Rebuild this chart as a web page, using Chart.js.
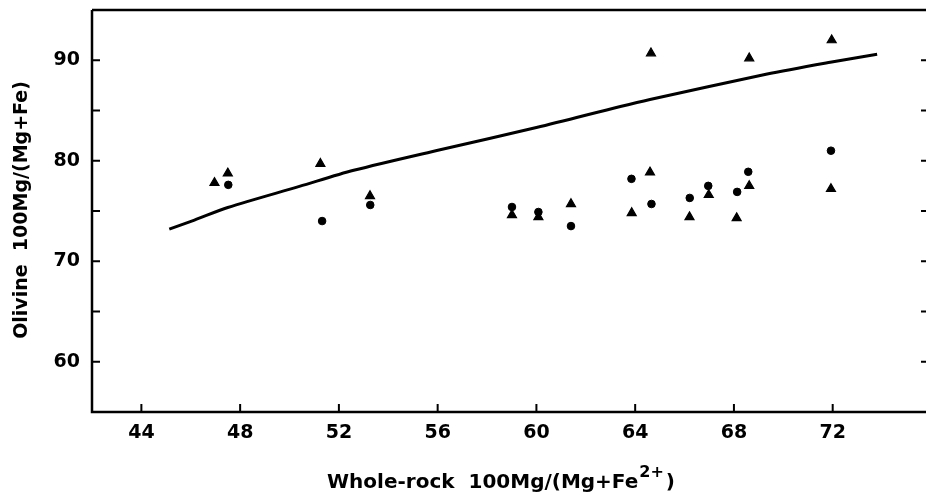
<!DOCTYPE html>
<html>
<head>
<meta charset="utf-8">
<script src="https://cdn.jsdelivr.net/npm/chart.js@4/dist/chart.umd.min.js"></script>
<style>
  html, body { margin: 0; padding: 0; background: #fff; overflow: hidden; }
  canvas { display: block; }
</style>
</head>
<body>
<canvas id="chart" width="926" height="493" style="width:926px;height:493px"></canvas>
<script>
// olivine vs whole-rock Mg number
const circleX = [47.52, 51.32, 53.27, 59.01, 60.08, 61.40, 63.85, 64.66, 66.21, 66.96, 68.13, 68.58, 71.93];
const circleY = [77.6, 74.0, 75.6, 75.4, 74.9, 73.5, 78.2, 75.7, 76.3, 77.5, 76.9, 78.9, 81.0];

const triX = [46.96, 47.50, 51.25, 53.26, 59.01, 60.08, 61.40, 63.86, 64.60, 64.64, 66.20, 66.98, 68.11, 68.62, 68.62, 71.96, 71.93];
const triY = [77.8, 78.75, 79.7, 76.5, 74.6, 74.4, 75.7, 74.8, 78.85, 90.7, 74.4, 76.6, 74.3, 77.5, 90.2, 92.0, 77.2];

const curveX = [45.13, 46.15, 47.5, 50.4, 52.6, 56.1, 60.0, 63.4, 64.6, 69.3, 71.9, 73.8];
const curveY = [73.2, 74.1, 75.35, 77.45, 79.05, 81.1, 83.3, 85.4, 86.1, 88.6, 89.8, 90.6];

const xTicks = [44, 48, 52, 56, 60, 64, 68, 72];
const yLabels = [60, 70, 80, 90];
const yTicks = [60, 65, 70, 75, 80, 85, 90];

const FONT = '"DejaVu Sans", sans-serif';

const zip = (xs, ys) => xs.map((x, i) => ({ x: x, y: ys[i] }));

// frame, inward ticks and the axis titles
const framePlugin = {
    id: 'frame',
    afterDraw(chart) {
        const ctx = chart.ctx;
        const a = chart.chartArea;
        const xs = chart.scales.x, ys = chart.scales.y;
        // the right-hand axis of the figure sits at the picture edge
        const right = chart.width + 3;
        ctx.save();
        ctx.strokeStyle = '#000';
        ctx.lineWidth = 2.5;
        ctx.beginPath();
        ctx.moveTo(a.left, a.top);
        ctx.lineTo(right, a.top);
        ctx.moveTo(a.left, a.top);
        ctx.lineTo(a.left, a.bottom);
        ctx.lineTo(right, a.bottom);
        ctx.stroke();

        ctx.lineWidth = 2;
        ctx.beginPath();
        for (const v of xTicks) {
            const px = xs.getPixelForValue(v);
            ctx.moveTo(px, a.bottom);
            ctx.lineTo(px, a.bottom - 8);
        }
        for (const v of yTicks) {
            const py = ys.getPixelForValue(v);
            ctx.moveTo(a.left, py);
            ctx.lineTo(a.left + 8, py);
            ctx.moveTo(right, py);
            ctx.lineTo(right - 8, py);
        }
        ctx.stroke();

        // x title with superscript
        ctx.fillStyle = '#000';
        ctx.textBaseline = 'alphabetic';
        ctx.textAlign = 'left';
        const main = 'Whole-rock  100Mg/(Mg+Fe';
        const sup = '2+';
        const close = ')';
        ctx.font = 'bold 20px ' + FONT;
        const w1 = ctx.measureText(main).width;
        const w3 = ctx.measureText(close).width;
        ctx.font = 'bold 16px ' + FONT;
        const w2 = ctx.measureText(sup).width;
        let x0 = 501 - (w1 + w2 + w3 + 3) / 2;
        const base = 488;
        ctx.font = 'bold 20px ' + FONT;
        ctx.fillText(main, x0, base);
        ctx.font = 'bold 16px ' + FONT;
        ctx.fillText(sup, x0 + w1 + 1, base - 11);
        ctx.font = 'bold 20px ' + FONT;
        ctx.fillText(close, x0 + w1 + w2 + 3, base);

        // y title
        ctx.translate(22, 210);
        ctx.rotate(-Math.PI / 2);
        ctx.textAlign = 'center';
        ctx.textBaseline = 'middle';
        ctx.font = 'bold 19px ' + FONT;
        ctx.fillText('Olivine  100Mg/(Mg+Fe)', 0, 0);
        ctx.restore();
    }
};

const noPad = s => {
    s.paddingTop = 0;
    s.paddingBottom = 0;
    s.paddingLeft = 0;
    s.paddingRight = 0;
};

new Chart(document.getElementById('chart'), {
    type: 'scatter',
    data: {
        datasets: [
            {
                label: 'curve',
                type: 'line',
                data: zip(curveX, curveY),
                borderColor: '#000',
                borderWidth: 3,
                pointRadius: 0,
                tension: 0.3,
                fill: false
            },
            {
                label: 'circles',
                data: zip(circleX, circleY),
                pointStyle: 'circle',
                pointRadius: 3.8,
                borderWidth: 1,
                backgroundColor: '#000',
                borderColor: '#000'
            },
            {
                label: 'triangles',
                data: zip(triX, triY),
                pointStyle: 'triangle',
                pointRadius: 5.2,
                borderWidth: 1.2,
                backgroundColor: '#000',
                borderColor: '#000'
            }
        ]
    },
    options: {
        responsive: false,
        animation: false,
        devicePixelRatio: 1,
        layout: { padding: { top: 10, right: 0, left: 0, bottom: 0 } },
        plugins: { legend: { display: false }, tooltip: { enabled: false } },
        scales: {
            x: {
                type: 'linear',
                min: 42,
                max: 75.52,
                afterBuildTicks: s => { s.ticks = xTicks.map(v => ({ value: v })); },
                afterFit: s => { s.height = 81; noPad(s); },
                grid: { display: false, drawTicks: false },
                border: { display: false },
                ticks: {
                    padding: 10,
                    color: '#000',
                    font: { family: FONT, size: 19, weight: 'bold' }
                }
            },
            y: {
                min: 55,
                max: 95,
                afterBuildTicks: s => { s.ticks = yLabels.map(v => ({ value: v })); },
                afterFit: s => { s.width = 92; noPad(s); },
                grid: { display: false, drawTicks: false },
                border: { display: false },
                ticks: {
                    padding: 12,
                    color: '#000',
                    font: { family: FONT, size: 19, weight: 'bold' }
                }
            }
        }
    },
    plugins: [framePlugin]
});
</script>
</body>
</html>
